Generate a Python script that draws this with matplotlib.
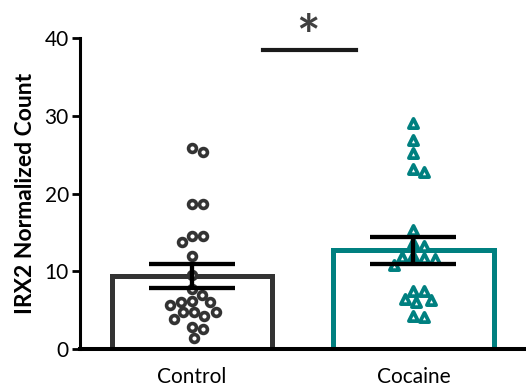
import numpy as np
import matplotlib
matplotlib.use("Agg")
import matplotlib.pyplot as plt

categories = ["Control", "Cocaine"]
control_vals = [25.8, 25.3, 18.7, 18.7, 14.5, 14.5, 13.8, 12.0, 9.5, 7.7, 6.9,
                6.2, 6.0, 6.1, 5.6, 4.7, 4.8, 4.8, 4.2, 3.8, 2.8, 2.6, 1.4]
cocaine_vals = [29.1, 26.9, 25.2, 23.1, 22.8, 15.3, 13.6, 13.2, 12.0, 11.7,
                11.6, 11.8, 10.8, 7.4, 7.4, 6.4, 6.0, 6.3, 4.2, 4.1]
bar_means = [9.35, 12.7]
bar_sems = [1.55, 1.75]
yticks = [0, 10, 20, 30, 40]

plt.rcParams['font.family'] = ['Lato', 'DejaVu Sans']

DPI = 100
fig = plt.figure(figsize=(5.26, 3.92), dpi=DPI)
ax = fig.add_axes([0.152, 0.1097, 0.845, 0.7933])
ax.set_xlim(-0.507, 1.502)
ax.set_ylim(0, 40)

colors = ["#333333", "#008080"]
markers = ["o", "^"]

# bars (open)
for i, m in enumerate(bar_means):
    ax.bar(i, m, width=0.725, facecolor="none", edgecolor=colors[i],
           linewidth=3.6, zorder=2)

def swarm(xc, vals, diam_px):
    # greedy beeswarm in display space
    disp = [ax.transData.transform((xc, v)) for v in vals]
    order = np.argsort(-np.array(vals), kind="stable")
    placed = []
    xs = [None] * len(vals)
    for idx in order:
        x0, y0 = disp[idx]
        step = 0.5
        k = 0
        while True:
            off = ((k + 1) // 2) * step * (1 if k % 2 == 1 else -1) if k else 0.0
            cx = x0 + off
            ok = all((cx - px) ** 2 + (y0 - py) ** 2 >= diam_px ** 2 for px, py in placed)
            if ok:
                placed.append((cx, y0))
                xs[idx] = ax.transData.inverted().transform((cx, y0))[0]
                break
            k += 1
    return xs

fig.canvas.draw()
for i, vals in enumerate([control_vals, cocaine_vals]):
    xs = swarm(i, vals, 11.0)
    if markers[i] == "o":
        ax.scatter(xs, vals, s=32, marker="o", facecolor="white",
                   edgecolor=colors[i], linewidth=2.6, zorder=3)
    else:
        ax.scatter(xs, vals, s=44, marker="^", facecolor="white",
                   edgecolor=colors[i], linewidth=2.7, zorder=3)

# error bars
for i, (m, e) in enumerate(zip(bar_means, bar_sems)):
    ax.errorbar(i, m, yerr=e, fmt="none", ecolor="black", elinewidth=3.1,
                capsize=31, capthick=3.1, zorder=4)

# significance
ax.plot([0.32, 0.74], [38.5, 38.5], color="#1a1a1a", linewidth=3.0,
        clip_on=False, zorder=5)
ax.text(0.525, 37.8, "*", ha="center", va="baseline", fontsize=40,
        fontweight="bold", color="#404040", clip_on=False)

for s in ["top", "right"]:
    ax.spines[s].set_visible(False)
ax.spines["left"].set_linewidth(2.2)
ax.spines["bottom"].set_linewidth(2.9)
ax.spines["left"].set_zorder(6)
ax.spines["bottom"].set_zorder(6)

ax.set_yticks(yticks)
ax.set_yticklabels([str(t) for t in yticks])
ax.tick_params(axis="y", length=6, width=2, labelsize=15, pad=2)
ax.set_xticks([0, 1])
ax.set_xticklabels(categories)
ax.tick_params(axis="x", length=0, labelsize=15, pad=13)

ax.set_ylabel("IRX2 Normalized Count", fontsize=16.5, fontweight="bold", labelpad=6)

fig.savefig("out.png", dpi=DPI)
